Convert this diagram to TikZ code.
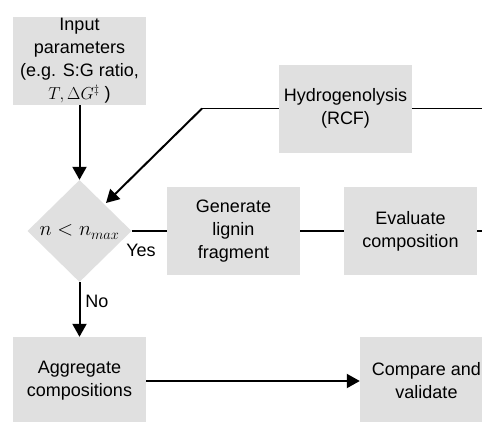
\documentclass[tikz,border=0pt]{standalone}
\usepackage{fontspec}
\setmainfont{Liberation Sans}
\usetikzlibrary{shapes.geometric,arrows.meta}
\definecolor{boxgray}{RGB}{224,224,224}
\tikzset{
  procbox/.style={fill=boxgray, draw=none, minimum width=133pt, minimum height=88pt, inner sep=0pt, align=center,
    font=\fontsize{18}{23}\selectfont},
  decbox/.style={shape=diamond, fill=boxgray, draw=none, minimum width=104pt, minimum height=102pt, inner sep=0pt},
  lbl/.style={font=\fontsize{18}{23}\selectfont, inner sep=0pt},
  arr/.style={line width=2pt, -{Triangle[length=13pt,width=14pt]}},
  plain/.style={line width=1.6pt},
}
\begin{document}
\begin{tikzpicture}[x=1pt,y=-1pt]
\useasboundingbox (0,0) rectangle (482,421);
\clip (0,0) rectangle (482,421);
\fill[white] (0,0) rectangle (482,421);
\node[procbox] (inp) at (79.5,61) {Input\\parameters\\(e.g. S:G ratio,\\$T,\Delta G^{\ddagger}$ )};
\node[procbox] (hyd) at (345.5,108.5) {Hydrogenolysis\\(RCF)};
\node[decbox] (dec) at (79.5,231) {};
\node[lbl, font=\fontsize{20.5}{24}\selectfont] (dectxt) at (79.5,232) {$n<n_{max}$};
\node[procbox] (gen) at (233.5,231) {Generate\\lignin\\fragment};
\node[procbox] (eva) at (410.5,231) {Evaluate\\composition};
\node[procbox] (agg) at (79.5,381) {Aggregate\\compositions};
\node[procbox] (cmp) at (426.5,381) {Compare and\\validate};
\coordinate (hbend) at (202,108.5);
\coordinate (hend) at (490,108.5);
\coordinate (eend) at (490,231);
\coordinate (dtip) at (106,203);
\draw[arr] (inp.south) -- (dec.north);
\draw[plain] (hyd.west) -- (hbend);
\draw[arr] (hbend) -- (dtip);
\draw[plain] (hyd.east) -- (hend);
\draw[plain] (dec.east) -- (gen.west);
\draw[plain] (gen.east) -- (eva.west);
\draw[plain] (eva.east) -- (eend);
\draw[arr] (dec.south) -- (agg.north);
\draw[arr] (agg.east) -- (cmp.west);
\node[lbl] (yes) at (141,250) {Yes};
\node[lbl] (no) at (97,301) {No};
\end{tikzpicture}
\end{document}
